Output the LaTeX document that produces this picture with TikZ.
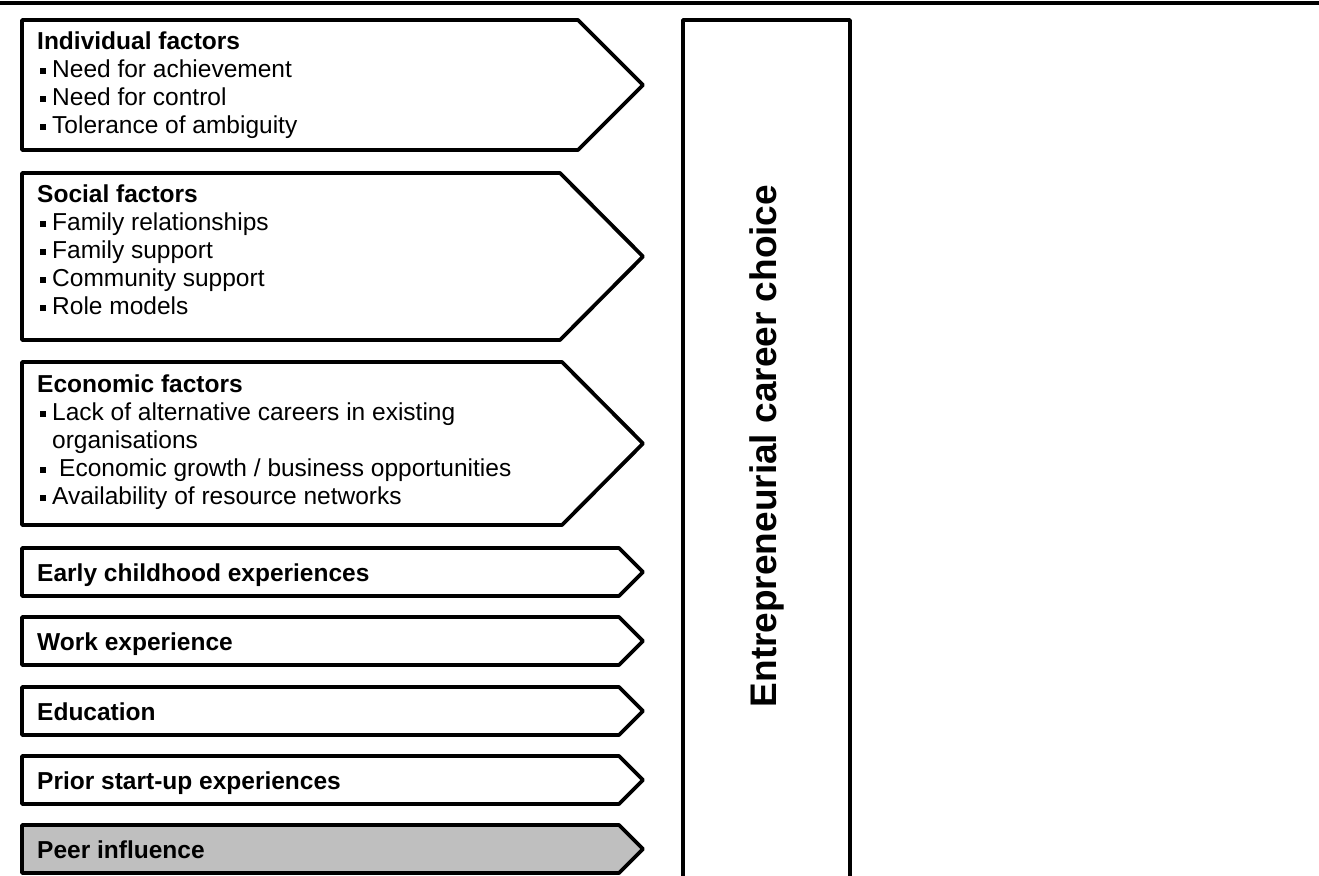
\documentclass[tikz,border=0pt]{standalone}
\usepackage{fontspec}
\setmainfont{Liberation Sans}
\newcommand{\bul}{\hspace{3pt}\rule[3.5pt]{6pt}{6pt}\hspace{6pt}}
\begin{document}
\begin{tikzpicture}[x=1pt, y=-1pt,
    factor/.style={line width=3.8pt, line join=round},
    factortext/.style={anchor=north west, inner sep=0pt, align=left,
        font=\fontsize{24.5}{28}\selectfont},
    steptext/.style={anchor=base west, inner sep=0pt,
        font=\fontsize{24.5}{28}\selectfont\bfseries}]
    \useasboundingbox (0,0) rectangle (1319,875);

    % Rule on top
    \draw[line width=3.8pt] (0,3) -- (1319,3);

    % Factor arrows
    \draw[factor] (22,20) -- (578,20) -- (643,85) -- (578,150) -- (22,150) -- cycle;
    \draw[factor] (22,173) -- (560,173) -- (643,256.5) -- (560,340) -- (22,340) -- cycle;
    \draw[factor] (22,362) -- (562,362) -- (643,443.5) -- (562,525) -- (22,525) -- cycle;

    \node[factortext] (indiv) at (37,31.5) {\textbf{Individual factors}\\
        \bul Need for achievement\\
        \bul Need for control\\
        \bul Tolerance of ambiguity};
    \node[factortext] (social) at (37,184.5) {\textbf{Social factors}\\
        \bul Family relationships\\
        \bul Family support\\
        \bul Community support\\
        \bul Role models};
    \node[factortext] (econ) at (37,374.5) {\textbf{Economic factors}\\
        \bul Lack of alternative careers in existing\\
        \hspace{15pt}organisations\\
        \bul\hspace{7pt}Economic growth / business opportunities\\
        \bul Availability of resource networks};

    % Experience arrows
    \draw[factor] (22,548) -- (619,548) -- (643,572) -- (619,596) -- (22,596) -- cycle;
    \draw[factor] (22,617) -- (619,617) -- (643,641) -- (619,665) -- (22,665) -- cycle;
    \draw[factor] (22,687) -- (619,687) -- (643,711) -- (619,735) -- (22,735) -- cycle;
    \draw[factor] (22,756) -- (619,756) -- (643,780) -- (619,804) -- (22,804) -- cycle;
    \draw[factor, fill=black!25] (22,825) -- (619,825) -- (643,849) -- (619,873) -- (22,873) -- cycle;

    \node[steptext] (early) at (37,581) {Early childhood experiences};
    \node[steptext] (work) at (37,650) {Work experience};
    \node[steptext] (edu) at (37,720) {Education};
    \node[steptext] (prior) at (37,789) {Prior start-up experiences};
    \node[steptext] (peer) at (37,858) {Peer influence};

    % Career choice column
    \draw[factor] (683,880) -- (683,20) -- (850,20) -- (850,880);
    \node[rotate=90, font=\fontsize{37}{40}\selectfont\bfseries] (choice) at (766.5,446)
        {Entrepreneurial career choice};
\end{tikzpicture}
\end{document}
